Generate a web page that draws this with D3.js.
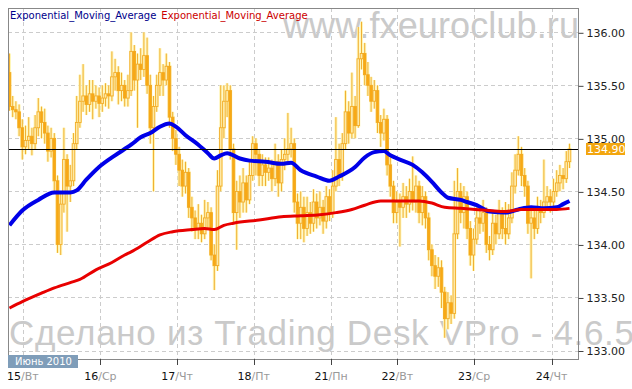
<!DOCTYPE html>
<html>
<head>
<meta charset="utf-8">
<script src="https://cdn.jsdelivr.net/npm/d3@7"></script>
<style>
  body { margin: 0; background: #fff; }
  svg { display: block; font-family: "DejaVu Sans", Verdana, sans-serif; }
</style>
</head>
<body>
<div id="chart"></div>
<script>
// hourly candles, USD/JPY-like, 15-24 June 2010
var opens = [135.62,135.30,135.27,135.25,135.10,134.92,134.98,135.02,134.95,135.10,
  135.25,135.15,135.05,134.88,135.00,134.60,134.00,134.38,134.80,134.55,
  134.60,134.95,135.15,135.35,135.40,135.32,135.42,135.35,135.40,135.33,
  135.38,135.42,135.40,135.58,135.62,135.45,135.50,135.38,135.45,135.82,
  135.55,135.70,135.65,135.78,135.50,135.10,135.30,135.50,135.62,135.55,
  135.68,135.20,135.00,134.85,134.70,134.55,134.68,134.35,134.25,134.15,
  134.20,134.10,134.25,134.30,133.90,133.80,134.55,135.10,135.35,135.45,
  134.90,134.30,134.50,134.40,134.58,134.42,134.65,134.95,134.85,134.65,
  134.75,134.68,134.72,134.62,134.78,134.58,134.80,134.85,134.90,134.95,
  134.40,134.20,134.35,134.15,134.30,134.20,134.40,134.25,134.35,134.22,
  134.45,134.30,134.55,134.80,134.65,134.95,135.25,135.05,135.30,135.12,
  135.75,135.80,135.60,135.50,135.35,135.45,135.15,135.05,135.18,134.75,
  134.55,134.30,134.40,134.35,134.45,134.38,134.50,134.40,134.55,134.30,
  134.45,134.25,133.95,133.80,133.70,133.78,133.55,133.30,133.45,133.35,
  134.10,134.50,134.30,134.45,134.15,133.90,134.05,134.25,134.20,134.30,
  134.00,133.95,134.20,134.10,134.30,134.15,134.10,134.25,134.55,134.70,
  134.85,134.65,134.55,134.20,134.25,134.15,134.35,134.30,134.40,134.45,
  134.40,134.50,134.58,134.65,134.62,134.78];
var highs = [135.80,135.40,135.35,135.32,135.18,135.12,135.20,135.10,135.22,135.38,
  135.30,135.28,135.12,135.10,135.05,134.65,134.50,135.10,134.85,134.75,
  135.05,135.40,135.60,135.70,135.50,135.55,135.55,135.50,135.48,135.50,
  135.52,135.50,135.82,135.75,135.68,135.62,135.55,135.60,136.00,135.88,
  135.80,135.85,136.00,135.95,135.60,135.40,135.60,135.85,135.70,135.80,
  135.72,135.25,135.08,134.92,134.80,134.78,134.72,134.45,134.32,134.38,
  134.28,134.42,134.40,134.35,134.00,134.70,135.50,135.50,135.52,135.50,
  134.95,134.60,134.65,134.72,134.65,134.78,135.02,135.00,134.90,134.85,
  134.82,134.82,134.80,134.95,134.85,134.90,135.00,135.24,135.10,135.00,
  134.48,134.50,134.45,134.45,134.40,134.52,134.48,134.50,134.42,134.55,
  134.52,134.70,135.20,134.95,135.05,135.45,135.35,135.62,135.40,136.05,
  136.10,135.90,135.72,135.58,135.55,135.50,135.22,135.28,135.22,134.82,
  134.60,134.50,134.48,134.58,134.55,134.62,134.83,134.65,134.60,134.55,
  134.50,134.30,134.00,133.90,133.88,133.85,133.60,133.55,133.52,134.60,
  134.72,134.58,134.55,134.50,134.22,134.15,134.38,134.32,134.42,134.35,
  134.08,134.30,134.28,134.42,134.35,134.40,134.38,134.68,134.85,135.02,
  134.92,134.72,134.60,134.35,134.32,134.45,134.42,134.80,134.55,134.52,
  134.62,134.70,134.75,134.72,134.88,134.95];
var lows = [135.26,135.20,135.18,135.02,134.80,134.85,134.90,134.84,134.90,135.02,
  135.00,134.95,134.78,134.82,134.50,133.92,133.90,134.30,134.12,134.40,
  134.55,134.90,135.10,135.25,135.22,135.25,135.18,135.28,135.20,135.25,
  135.30,135.28,135.35,135.45,135.32,135.35,135.30,135.30,135.40,135.45,
  135.10,135.55,135.58,135.42,134.95,134.50,135.25,135.40,135.40,135.50,
  135.10,134.88,134.75,134.55,134.45,134.48,134.25,134.12,134.05,134.05,
  134.02,134.05,134.15,133.85,133.57,133.75,134.50,135.00,135.20,134.80,
  134.20,133.95,134.25,134.30,134.30,134.38,134.60,134.65,134.55,134.55,
  134.55,134.60,134.50,134.55,134.45,134.50,134.70,134.75,134.82,134.30,
  134.05,134.05,134.02,134.08,134.10,134.12,134.15,134.18,134.10,134.15,
  134.22,134.25,134.50,134.55,134.60,134.90,134.95,135.00,135.00,135.10,
  135.65,135.50,135.40,135.25,135.28,135.05,134.92,134.98,134.65,134.45,
  134.20,134.20,133.98,134.25,134.25,134.30,134.32,134.30,134.20,134.18,
  134.15,133.85,133.70,133.58,133.60,133.40,133.12,133.20,133.25,133.30,
  134.05,134.20,134.15,134.05,133.80,133.75,134.00,134.10,134.12,133.92,
  133.85,133.90,134.00,134.05,134.05,134.00,134.05,134.20,134.48,134.65,
  134.55,134.45,134.10,133.68,134.05,134.10,134.20,134.25,134.32,134.30,
  134.35,134.45,134.50,134.52,134.58,134.72];
var closes = [135.30,135.27,135.25,135.10,134.92,134.98,135.02,134.95,135.10,135.25,
  135.15,135.05,134.88,135.00,134.60,134.00,134.38,134.80,134.55,134.60,
  134.95,135.15,135.35,135.40,135.32,135.42,135.35,135.40,135.33,135.38,
  135.42,135.40,135.58,135.62,135.45,135.50,135.38,135.45,135.82,135.55,
  135.70,135.65,135.78,135.50,135.10,135.30,135.50,135.62,135.55,135.68,
  135.20,135.00,134.85,134.70,134.55,134.68,134.35,134.25,134.15,134.20,
  134.10,134.25,134.30,133.90,133.80,134.55,135.10,135.35,135.45,134.90,
  134.30,134.50,134.40,134.58,134.42,134.65,134.95,134.85,134.65,134.75,
  134.68,134.72,134.62,134.78,134.58,134.80,134.85,134.90,134.95,134.40,
  134.20,134.35,134.15,134.30,134.20,134.40,134.25,134.35,134.22,134.45,
  134.30,134.55,134.80,134.65,134.95,135.25,135.05,135.30,135.12,135.75,
  135.80,135.60,135.50,135.35,135.45,135.15,135.05,135.18,134.75,134.55,
  134.30,134.40,134.35,134.45,134.38,134.50,134.40,134.55,134.30,134.45,
  134.25,133.95,133.80,133.70,133.78,133.55,133.30,133.45,133.35,134.10,
  134.50,134.30,134.45,134.15,133.90,134.05,134.25,134.20,134.30,134.00,
  133.95,134.20,134.10,134.30,134.15,134.10,134.25,134.55,134.70,134.85,
  134.65,134.55,134.20,134.25,134.15,134.35,134.30,134.40,134.45,134.40,
  134.50,134.58,134.65,134.62,134.78,134.90];

// moving averages (bar index, price)
var emaFastIdx = [0,4,9,14,19,21,24,28,33,38,41,44,47,50,52,55,59,62,64,66,68,72,75,80,85,88,
  91,96,100,103,108,111,114,117,119,122,126,129,132,135,137,141,143,146,150,155,159,163,167,171,173,175];
var emaFastVals = [134.18,134.32,134.42,134.49,134.49,134.51,134.61,134.73,134.84,134.94,135.01,135.05,
  135.11,135.14,135.11,135.03,134.94,134.86,134.81,134.84,134.86,134.81,134.79,134.78,134.76,134.77,
  134.70,134.64,134.60,134.64,134.73,134.82,134.87,134.88,134.84,134.80,134.75,134.68,134.59,134.49,
  134.44,134.42,134.40,134.37,134.31,134.30,134.33,134.35,134.34,134.35,134.38,134.41];
var emaSlowIdx = [0,4,10,14,19,22,27,32,36,38,43,47,51,57,61,64,67,70,78,85,91,97,102,107,111,116,
  125,128,132,136,141,150,155,160,171,175];
var emaSlowVals = [133.40,133.46,133.54,133.59,133.64,133.67,133.76,133.83,133.90,133.93,134.02,134.09,
  134.12,134.14,134.15,134.14,134.18,134.20,134.23,134.26,134.27,134.28,134.30,134.33,134.37,134.41,
  134.41,134.41,134.39,134.35,134.34,134.32,134.31,134.33,134.33,134.34];

var dayTicks = [4.2, 28.4, 52.4, 76.3, 100.5, 121.2, 145.2, 169.4];
var dayNums = ["15", "16", "17", "18", "21", "22", "23", "24"];
var dayNames = ["Вт", "Ср", "Чт", "Пт", "Пн", "Вт", "Ср", "Чт"];
var priceTicks = [133, 133.5, 134, 134.5, 135, 135.5, 136];
var lastPrice = 134.90;
var legendNames = ["Exponential_Moving_Average", "Exponential_Moving_Average"];
var monthLabel = "Июнь 2010";

var w = 632, h = 389;
var plot = {left: 8, right: 578, top: 8, bottom: 359};

var svg = d3.select("#chart").append("svg")
  .attr("width", w)
  .attr("height", h);

var x = d3.scaleLinear().domain([0, closes.length - 1]).range([9.5, 569.5]);
var y = d3.scaleLinear().domain([133, 136]).range([350.5, 32.3]);

svg.append("clipPath").attr("id", "clip")
  .append("rect")
  .attr("x", plot.left).attr("y", plot.top)
  .attr("width", plot.right - plot.left).attr("height", plot.bottom - plot.top);

// watermarks
svg.append("text")
  .attr("x", 283).attr("y", 38)
  .attr("textLength", 296)
  .attr("font-family", "'Liberation Sans', Arial, sans-serif")
  .attr("font-size", "36px")
  .attr("fill", "#cacaca")
  .text("www.fxeuroclub.ru");
svg.append("text")
  .attr("x", 9).attr("y", 345)
  .attr("textLength", 625)
  .attr("font-family", "'Liberation Sans', Arial, sans-serif")
  .attr("font-size", "35px")
  .attr("fill", "#cacaca")
  .text("Сделано из Trading Desk VPro - 4.6.5");

// grid
var grid = svg.append("g")
  .attr("stroke", "#cccccc")
  .attr("stroke-dasharray", "4,3");
grid.selectAll("line.h")
  .data(priceTicks)
  .enter()
  .append("line")
  .attr("x1", plot.left).attr("x2", plot.right)
  .attr("y1", function(d) { return Math.round(y(d)) + 0.5; })
  .attr("y2", function(d) { return Math.round(y(d)) + 0.5; });
grid.selectAll("line.v")
  .data(dayTicks)
  .enter()
  .append("line")
  .attr("y1", plot.top).attr("y2", plot.bottom)
  .attr("x1", function(d) { return Math.round(x(d)) + 0.5; })
  .attr("x2", function(d) { return Math.round(x(d)) + 0.5; });

// candles
var bars = closes.map(function(c, i) {
  return {i: i, o: opens[i], h: highs[i], l: lows[i], c: c};
});
var cg = svg.append("g").attr("clip-path", "url(#clip)");

// soft yellow halo under the candles
cg.selectAll("line.halo")
  .data(bars)
  .enter()
  .append("line")
  .attr("x1", function(d) { return x(d.i); })
  .attr("x2", function(d) { return x(d.i); })
  .attr("y1", function(d) { return y(d.h); })
  .attr("y2", function(d) { return y(d.l); })
  .attr("stroke", "#fff6b8")
  .attr("stroke-width", 3);
cg.selectAll("rect.halo")
  .data(bars)
  .enter()
  .append("rect")
  .attr("x", function(d) { return x(d.i) - 2; })
  .attr("y", function(d) { return y(Math.max(d.o, d.c)) - 1; })
  .attr("width", 4)
  .attr("height", function(d) { return Math.abs(y(d.o) - y(d.c)) + 2; })
  .attr("fill", "#fff6b8");

cg.selectAll("line.wick")
  .data(bars)
  .enter()
  .append("line")
  .attr("x1", function(d) { return x(d.i); })
  .attr("x2", function(d) { return x(d.i); })
  .attr("y1", function(d) { return y(d.h); })
  .attr("y2", function(d) { return y(d.l); })
  .attr("stroke", "#f0b034")
  .attr("stroke-width", 1);
cg.selectAll("rect.body")
  .data(bars)
  .enter()
  .append("rect")
  .attr("x", function(d) { return x(d.i) - 1.3; })
  .attr("y", function(d) { return y(Math.max(d.o, d.c)); })
  .attr("width", 2.6)
  .attr("height", function(d) { return Math.max(1, Math.abs(y(d.o) - y(d.c))); })
  .attr("fill", function(d) { return d.c >= d.o ? "#fde9a6" : "#f8a914"; })
  .attr("stroke", "#f2a81e")
  .attr("stroke-width", 0.8);

// moving averages
var line = d3.line()
  .x(function(d) { return x(d[0]); })
  .y(function(d) { return y(d[1]); })
  .curve(d3.curveMonotoneX);
cg.append("path")
  .datum(d3.zip(emaFastIdx, emaFastVals))
  .attr("d", line)
  .attr("fill", "none")
  .attr("stroke", "#0000e8")
  .attr("stroke-width", 4);
cg.append("path")
  .datum(d3.zip(emaSlowIdx, emaSlowVals))
  .attr("d", line)
  .attr("fill", "none")
  .attr("stroke", "#e80000")
  .attr("stroke-width", 3);

// last price line
svg.append("line")
  .attr("x1", plot.left).attr("x2", plot.right)
  .attr("y1", Math.round(y(lastPrice)) + 0.5)
  .attr("y2", Math.round(y(lastPrice)) + 0.5)
  .attr("stroke", "#000")
  .attr("stroke-width", 1);

// frame
svg.append("rect")
  .attr("x", plot.left + 0.5).attr("y", plot.top + 0.5)
  .attr("width", plot.right - plot.left).attr("height", plot.bottom - plot.top)
  .attr("fill", "none")
  .attr("stroke", "#888")
  .attr("stroke-width", 1);

// right price axis
var yAxis = d3.axisRight(y)
  .tickValues(priceTicks)
  .tickFormat(d3.format(".2f"))
  .tickSize(5)
  .tickPadding(3);
var ya = svg.append("g")
  .attr("transform", "translate(" + (plot.right + 0.5) + ",0.5)")
  .call(yAxis);
ya.select(".domain").remove();
ya.selectAll("line").attr("stroke", "#444");
ya.selectAll("text")
  .attr("font-family", "'DejaVu Sans', Verdana, sans-serif")
  .attr("font-size", "11px")
  .attr("fill", "#222");

// current price badge
svg.append("rect")
  .attr("x", 586).attr("y", Math.round(y(lastPrice)) - 6)
  .attr("width", 39).attr("height", 12)
  .attr("fill", "#f3a60f");
svg.append("text")
  .attr("x", 587).attr("y", Math.round(y(lastPrice)) + 4)
  .attr("font-size", "11px")
  .attr("fill", "#fff")
  .text(d3.format(".2f")(lastPrice));

// bottom day axis
var xa = svg.append("g");
xa.selectAll("line")
  .data(dayTicks)
  .enter()
  .append("line")
  .attr("x1", function(d) { return Math.round(x(d)) + 0.5; })
  .attr("x2", function(d) { return Math.round(x(d)) + 0.5; })
  .attr("y1", plot.bottom)
  .attr("y2", plot.bottom + 6)
  .attr("stroke", "#444");
var lbl = xa.selectAll("text")
  .data(dayTicks)
  .enter()
  .append("text")
  .attr("x", function(d) { return x(d); })
  .attr("y", 380)
  .attr("text-anchor", "middle")
  .attr("font-size", "11px");
lbl.append("tspan")
  .attr("fill", "#111")
  .text(function(d, i) { return dayNums[i]; });
lbl.append("tspan")
  .attr("fill", "#999")
  .text(function(d, i) { return "/" + dayNames[i]; });

// month badge
svg.append("rect")
  .attr("x", plot.left).attr("y", 355)
  .attr("width", 70).attr("height", 13)
  .attr("fill", "#7f9db9");
svg.append("text")
  .attr("x", plot.left + 7).attr("y", 365)
  .attr("font-size", "10px")
  .attr("fill", "#fff")
  .text(monthLabel);

// legend
var leg = svg.append("text")
  .attr("x", 10).attr("y", 19)
  .attr("font-size", "10px");
leg.append("tspan").attr("fill", "#00008b").text(legendNames[0]);
leg.append("tspan").attr("fill", "#cc0000").attr("dx", 5).text(legendNames[1]);
</script>
</body>
</html>
